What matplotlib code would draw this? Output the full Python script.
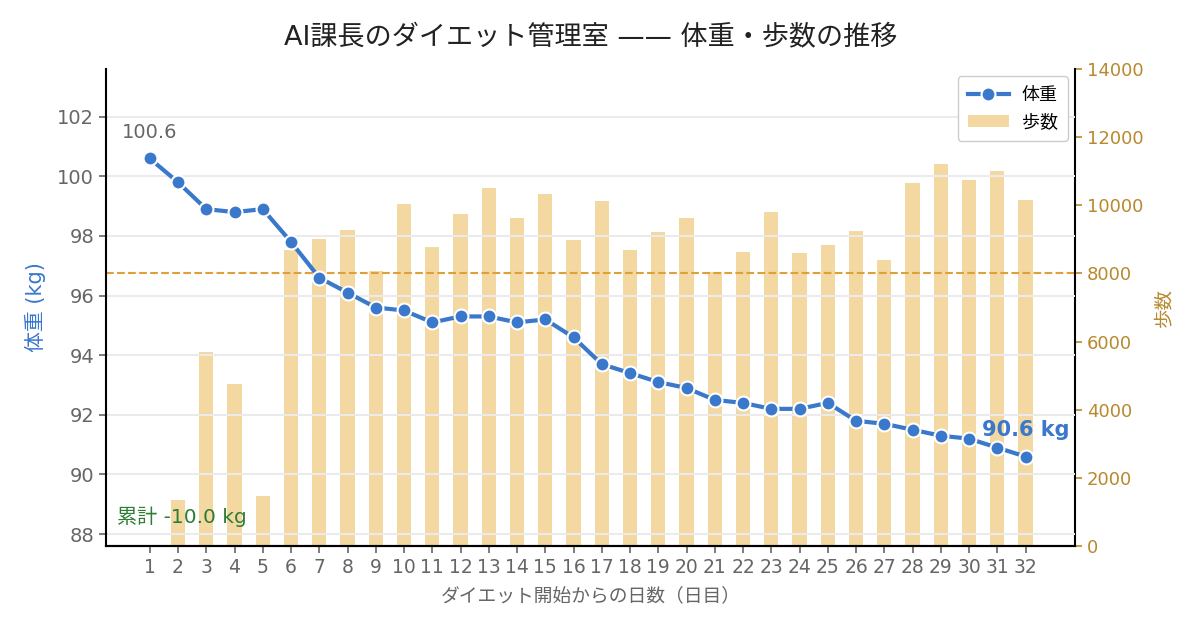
import numpy as np
import matplotlib
matplotlib.use('Agg')
from matplotlib import pyplot as plt

plt.rcParams['font.family'] = ['DejaVu Sans', 'Noto Sans CJK JP']

days = list(range(1, 33))
weight_kg = [100.6, 99.8, 98.9, 98.8, 98.9, 97.8, 96.6, 96.1, 95.6, 95.5,
             95.1, 95.3, 95.3, 95.1, 95.2, 94.6, 93.7, 93.4, 93.1, 92.9,
             92.5, 92.4, 92.2, 92.2, 92.4, 91.8, 91.7, 91.5, 91.3, 91.2,
             90.9, 90.6]
steps = [0, 1350, 5700, 4750, 1470, 8700, 9000, 9270, 8070, 10040,
         8780, 9740, 10500, 9630, 10330, 8980, 10130, 8690, 9220, 9630,
         8040, 8630, 9800, 8600, 8830, 9250, 8390, 10650, 11210, 10740,
         11010, 10150]
step_goal = 8000

BLUE = '#3a78cc'
BAR = '#f3d8a2'
GOLD = '#b8892e'
GREY = '#666666'

fig = plt.figure(figsize=(12, 6.3), dpi=100)
ax = fig.add_axes([0.0883, 0.1333, 0.8075, 0.7572])
ax2 = ax.twinx()
ax.set_zorder(ax2.get_zorder() + 1)
ax.patch.set_visible(False)

# 歩数は右軸、棒グラフ
ax2.bar(days, steps, width=0.5, color=BAR, label='歩数')
ax2.axhline(step_goal, color='#dfa03a', lw=1.5, linestyle='--')
ax2.set_ylim(0, 14000)
ax2.set_yticks(np.arange(0, 14001, 2000))
ax2.tick_params(axis='y', colors=GOLD, labelsize=13, length=5, width=1.2)
ax2.set_ylabel('歩数', color=GOLD, fontsize=14, labelpad=8)

# 体重は左軸、折れ線
ax.plot(days, weight_kg, color=BLUE, lw=3, marker='o', ms=10,
        markeredgecolor='white', markeredgewidth=1.5, label='体重')
ax.set_ylim(min(weight_kg) - 3, max(weight_kg) + 3)
ax.set_yticks(np.arange(88, 103, 2))
ax.set_xlim(-0.55, 33.75)
ax.set_xticks(days)
ax.grid(axis='y', color='#ebebeb', lw=1.5)
ax.set_axisbelow(True)
ax.tick_params(axis='y', colors=GREY, labelsize=14, length=5, width=1.2)
ax.tick_params(axis='x', colors=GREY, labelsize=13.5, length=5, width=1.2)
ax.set_ylabel('体重 (kg)', color=BLUE, fontsize=15, labelpad=8)
ax.set_xlabel('ダイエット開始からの日数（日目）', color=GREY, fontsize=13.5, labelpad=7)

for a in (ax, ax2):
    a.spines['top'].set_visible(False)
    for s in ('left', 'right', 'bottom'):
        a.spines[s].set_linewidth(1.5)
        a.spines[s].set_color('black')
ax.spines['right'].set_visible(False)
ax2.spines['left'].set_visible(False)

ax.annotate('%.1f' % weight_kg[0], (days[0], weight_kg[0]), xytext=(0, 15),
            textcoords='offset points', ha='center', va='baseline', color=GREY, fontsize=14)
ax.annotate('%.1f kg' % weight_kg[-1], (days[-1], weight_kg[-1]), xytext=(0, 15),
            textcoords='offset points', ha='center', va='baseline', color=BLUE,
            fontsize=15, fontweight='bold')
ax.text(0.011, 0.062, '累計 %.1f kg' % (weight_kg[-1] - weight_kg[0]), transform=ax.transAxes,
        color='#2e7d32', fontsize=14.5, va='center', ha='left')

h1, l1 = ax.get_legend_handles_labels()
h2, l2 = ax2.get_legend_handles_labels()
ax.legend(h1 + h2, l1 + l2, loc='upper right', fontsize=13, framealpha=1,
          edgecolor='#cccccc', borderaxespad=0.4, borderpad=0.55,
          handlelength=2.3, handletextpad=0.7)

fig.suptitle('AI課長のダイエット管理室 —— 体重・歩数の推移', fontsize=19.5,
             color='#222222', x=0.492, y=0.94, va='center')

plt.savefig('out.png', dpi=100)
